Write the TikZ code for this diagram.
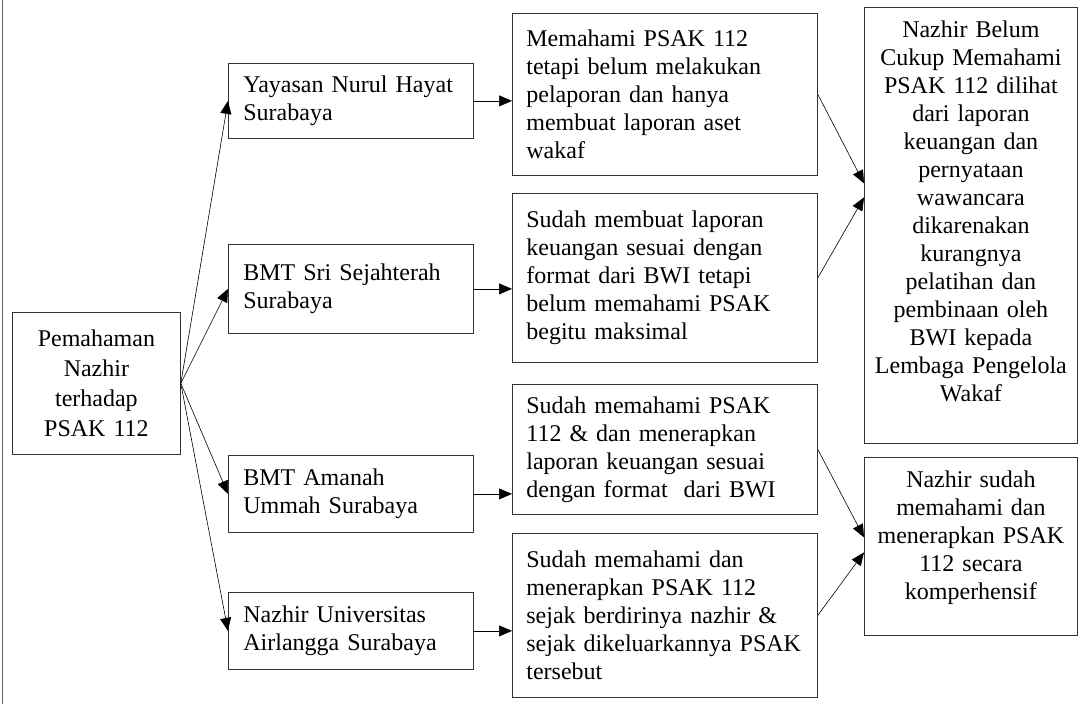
\documentclass[tikz,border=0pt]{standalone}
\usepackage{fontspec}
\setmainfont{Liberation Serif}
\usetikzlibrary{arrows.meta,positioning}

\begin{document}
\begin{tikzpicture}[x=1pt,y=-1pt,
  kotak/.style={draw=black!80, line width=0.8pt, anchor=north west, inner ysep=0pt,
    font=\fontsize{24}{28}\selectfont},
  tengah/.style={kotak, align=left, inner xsep=15pt, text width=215pt, minimum width=245pt},
  hasil/.style={kotak, align=left, inner xsep=14pt, text width=277pt, minimum width=305pt},
  panah/.style={-{Triangle[length=13pt,width=11pt]}, line width=0.6pt}]

  \useasboundingbox (0,0) rectangle (1082,704);
  \draw[black!60, line width=1.2pt] (2.5,0) -- (2.5,704);

  % asal
  \node[kotak, align=center, minimum width=168pt, minimum height=142pt,
    text width=150pt, inner xsep=9pt, font=\fontsize{24}{30}\selectfont] (asal) at (12,312)
    {Pemahaman\\Nazhir\\terhadap\\PSAK 112};

  % lembaga
  \node[tengah, minimum height=75pt] (yayasan) at (228,63) {Yayasan Nurul Hayat\\Surabaya};
  \node[tengah, minimum height=89pt] (sri) at (228,244) {BMT Sri Sejahterah\\Surabaya};
  \node[tengah, minimum height=77pt] (amanah) at (228,455) {BMT Amanah\\Ummah Surabaya};
  \node[tengah, minimum height=77pt] (unair) at (228,592) {Nazhir Universitas\\Airlangga Surabaya};

  % temuan
  \node[hasil, minimum height=162pt] (h1) at (512,13)
    {Memahami PSAK 112\\tetapi belum melakukan\\pelaporan dan hanya\\membuat laporan aset\\wakaf};
  \node[hasil, minimum height=169pt] (h2) at (512,193)
    {Sudah membuat laporan\\keuangan sesuai dengan\\format dari BWI tetapi\\belum memahami PSAK\\begitu maksimal};
  \node[hasil, minimum height=130pt] (h3) at (512,384)
    {Sudah memahami PSAK\\112 \& dan menerapkan\\laporan keuangan sesuai\\dengan format~ dari BWI};
  \node[hasil, minimum height=164pt] (h4) at (512,533)
    {Sudah memahami dan\\menerapkan PSAK 112\\sejak berdirinya nazhir \&\\sejak dikeluarkannya PSAK\\tersebut};

  % kesimpulan
  \node[kotak, align=center, minimum width=213pt, text width=205pt, inner xsep=4pt,
    inner ysep=14pt, text height=16pt, text depth=392pt] (k1) at (864,7)
    {Nazhir Belum\\Cukup Memahami\\PSAK 112 dilihat\\dari laporan\\keuangan dan\\pernyataan\\wawancara\\dikarenakan\\kurangnya\\pelatihan dan\\pembinaan oleh\\BWI kepada\\Lembaga Pengelola\\Wakaf};
  \node[kotak, align=center, minimum width=213pt, text width=205pt, inner xsep=4pt,
    inner ysep=14pt, text height=16pt, text depth=134pt] (k2) at (864,457)
    {Nazhir sudah\\memahami dan\\menerapkan PSAK\\112 secara\\komperhensif};

  % panah
  \foreach \t in {yayasan,sri,amanah,unair}
    \draw[panah] (asal.east) -- (\t.west);
  \draw[panah] (yayasan.east) -- (yayasan.east -| h1.west);
  \draw[panah] (sri.east) -- (sri.east -| h2.west);
  \draw[panah] (amanah.east) -- (amanah.east -| h3.west);
  \draw[panah] (unair.east) -- (unair.east -| h4.west);
  \draw[panah] (h1.east) -- ([yshift=42pt]k1.west);
  \draw[panah] (h2.east) -- ([yshift=28pt]k1.west);
  \draw[panah] (h3.east) -- ([yshift=9pt]k2.west);
  \draw[panah] (h4.east) -- ([yshift=-6pt]k2.west);
\end{tikzpicture}
\end{document}
